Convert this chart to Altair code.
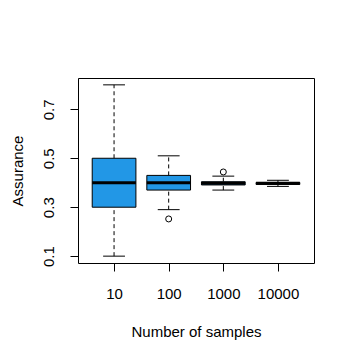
import altair as alt
import pandas as pd

categories = ["10", "100", "1000", "10000"]
lower_whisker = [0.10, 0.29, 0.37, 0.385]
q1 = [0.30, 0.37, 0.391, 0.393]
median = [0.40, 0.40, 0.398, 0.398]
q3 = [0.50, 0.43, 0.404, 0.401]
upper_whisker = [0.80, 0.51, 0.427, 0.41]
outlier_cat = ["100", "1000"]
outlier_val = [0.252, 0.444]

FONT = "Liberation Sans"
FS = 15
BLUE = "#2297E6"

box_df = pd.DataFrame({
    "cat": categories,
    "lw": lower_whisker,
    "q1": q1,
    "med": median,
    "q3": q3,
    "uw": upper_whisker,
})
out_df = pd.DataFrame({"cat": outlier_cat, "val": outlier_val})

label_expr = "[" + ",".join("'%s'" % c for c in categories) + "][datum.value - 1]"
cat_index_expr = "indexof([" + ",".join("'%s'" % c for c in categories) + "], datum.cat) + 1"

xscale = alt.Scale(domain=[0.34, 4.66], nice=False, zero=False)
yscale = alt.Scale(domain=[0.072, 0.828], nice=False, zero=False)

x_axis = alt.Axis(
    values=[1, 2, 3, 4], labelExpr=label_expr, title="Number of samples",
    tickSize=8, tickColor="black", domain=False, grid=False,
    labelFont=FONT, labelFontSize=FS, labelColor="black", labelBaseline="alphabetic",
    labelPadding=27, labelAngle=0,
    titleFont=FONT, titleFontSize=FS, titleFontWeight="normal", titleColor="black",
    titleBaseline="alphabetic", titleY=73, titleX=118,
)
y_axis = alt.Axis(
    values=[0.1, 0.2, 0.3, 0.4, 0.5, 0.6, 0.7, 0.8], format=".1f",
    labelExpr="(round(datum.value*10) % 2 == 1) ? datum.label : ''",
    title="Assurance", tickSize=8, tickColor="black", domain=False, grid=False,
    labelFont=FONT, labelFontSize=FS, labelColor="black", labelAngle=-90,
    labelAlign="center", labelBaseline="alphabetic", labelPadding=17,
    titleFont=FONT, titleFontSize=FS, titleFontWeight="normal", titleColor="black",
    titleAngle=-90, titleAlign="center", titleBaseline="alphabetic", titleX=-56, titleY=92.5,
)

base = alt.Chart(box_df).transform_calculate(pos=cat_index_expr).transform_calculate(
    xl="datum.pos - 0.4", xr="datum.pos + 0.4", cl="datum.pos - 0.2", cr="datum.pos + 0.2"
)

whisk_up = base.mark_rule(color="black", strokeWidth=1, strokeDash=[4, 3]).encode(
    x=alt.X("pos:Q", scale=xscale, axis=x_axis),
    y=alt.Y("q3:Q", scale=yscale, axis=y_axis),
    y2="uw:Q",
)
whisk_lo = base.mark_rule(color="black", strokeWidth=1, strokeDash=[4, 3]).encode(
    x=alt.X("pos:Q", scale=xscale), y=alt.Y("lw:Q", scale=yscale), y2="q1:Q"
)
cap_up = base.mark_rule(color="black", strokeWidth=1).encode(
    x=alt.X("cl:Q", scale=xscale), x2="cr:Q", y=alt.Y("uw:Q", scale=yscale)
)
cap_lo = base.mark_rule(color="black", strokeWidth=1).encode(
    x=alt.X("cl:Q", scale=xscale), x2="cr:Q", y=alt.Y("lw:Q", scale=yscale)
)
boxes = base.mark_rect(fill=BLUE, stroke="black", strokeWidth=1).encode(
    x=alt.X("xl:Q", scale=xscale), x2="xr:Q", y=alt.Y("q1:Q", scale=yscale), y2="q3:Q"
)
meds = base.mark_rule(color="black", strokeWidth=3).encode(
    x=alt.X("xl:Q", scale=xscale), x2="xr:Q", y=alt.Y("med:Q", scale=yscale)
)
outs = alt.Chart(out_df).transform_calculate(pos=cat_index_expr).mark_point(
    shape="circle", filled=False, color="black", size=36, strokeWidth=1, opacity=1
).encode(x=alt.X("pos:Q", scale=xscale), y=alt.Y("val:Q", scale=yscale))

chart = alt.layer(whisk_up, whisk_lo, cap_up, cap_lo, boxes, meds, outs).properties(
    width=236, height=185,
    autosize=alt.AutoSizeParams(type="none"),
    padding={"left": 70, "top": 70, "right": 33, "bottom": 90},
    background="white",
).configure_view(stroke="black", strokeWidth=1)

chart.save("out.html", embed_options={"renderer": "svg", "actions": False})
